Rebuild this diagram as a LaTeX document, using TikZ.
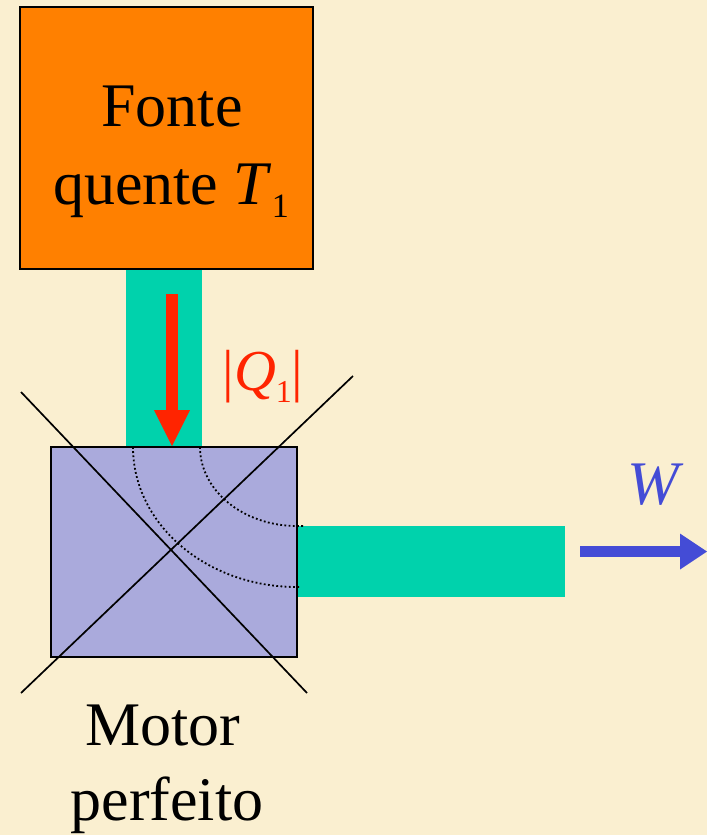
\documentclass[tikz,border=0pt]{standalone}
\usepackage{fontspec}
\setmainfont{Liberation Serif}
\usetikzlibrary{arrows.meta}

\definecolor{pergaminho}{RGB}{250,239,208}
\definecolor{laranja}{RGB}{255,128,0}
\definecolor{fluxo}{RGB}{0,210,172}
\definecolor{lilas}{RGB}{170,170,220}
\definecolor{calor}{RGB}{255,36,0}
\definecolor{trabalho}{RGB}{68,76,214}

\newcommand{\ind}[1]{\raisebox{-0.22em}{\scalebox{0.55}{#1}}}

\begin{document}
\begin{tikzpicture}[>=Latex,x=1pt,y=-1pt,
  caixa/.style={draw=black,line width=1.5pt,inner sep=0pt},
  texto/.style={anchor=base,font=\fontsize{62}{70}\selectfont},
  pontilhado/.style={line width=1.8pt,dash pattern=on 1.8pt off 2.4pt}]
  \useasboundingbox[fill=pergaminho] (0,0) rectangle (707,835);
  % --- faixas de energia ---
  \fill[fluxo] (126,269) rectangle (202,447);
  \fill[fluxo] (297,526) rectangle (565,597);
  % --- Fonte quente ---
  \node[caixa,fill=laranja,minimum width=293pt,minimum height=262pt] (fonte) at (166.5,138) {};
  \node[texto] (fonte1) at (172,126) {Fonte};
  \node[texto] (fonte2) at (171,204) {quente \textit{T}\ind{1}};
  % --- Motor ---
  \node[caixa,fill=lilas,minimum width=246pt,minimum height=210pt] (motor) at (174,552) {};
  \draw[pontilhado] (133,447) arc[start angle=180,end angle=270,x radius=164pt,y radius=140pt] -- (300,587);
  \draw[pontilhado] (200,447) arc[start angle=180,end angle=270,x radius=97pt,y radius=79pt] -- (303,526);
  % --- cruz sobre o motor ---
  \coordinate (c1) at (21,392);
  \coordinate (c2) at (307,693);
  \coordinate (c3) at (353,376);
  \coordinate (c4) at (21,693);
  \draw[line width=1.7pt] (c1) -- (c2);
  \draw[line width=1.7pt] (c3) -- (c4);
  \node[texto] (motor1) at (163,745) {Motor};
  \node[texto] (motor2) at (167,820) {perfeito};
  % --- calor Q1 ---
  \coordinate (q1a) at (172,294);
  \coordinate (q1b) at (172,446);
  \draw[calor,line width=12pt,-{Triangle[length=36pt,width=36pt,line width=0pt]}] (q1a) -- (q1b);
  \node[calor,anchor=base,font=\fontsize{58}{64}\selectfont] (q1) at (263,390) {|\textit{Q}\ind{1}|};
  % --- trabalho W ---
  \coordinate (wa) at (580,551.5);
  \coordinate (wb) at (707,551.5);
  \draw[trabalho,line width=11pt,-{Triangle[length=27pt,width=36pt,line width=0pt]}] (wa) -- (wb);
  \node[trabalho,anchor=base,font=\fontsize{62}{70}\selectfont] (w) at (656,504) {\textit{W}};
\end{tikzpicture}
\end{document}
